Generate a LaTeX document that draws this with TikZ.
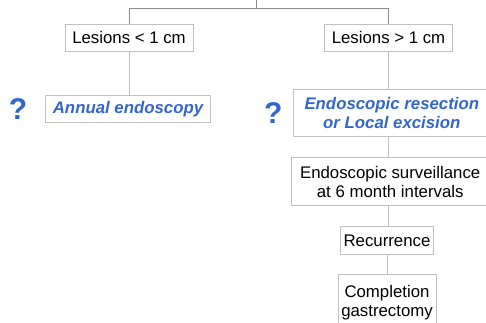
\documentclass[tikz,border=0pt]{standalone}
\usepackage{fontspec}
\setmainfont{Liberation Sans}
\definecolor{qblue}{RGB}{51,102,204}
\definecolor{boxgray}{RGB}{192,192,192}
\definecolor{treegray}{RGB}{140,140,140}
\tikzset{box/.style = {draw=boxgray, line width=0.9pt, inner sep=0, align=center, font=\fontsize{16.8}{19}\selectfont}}
\tikzset{optbox/.style = {box, text=qblue, font=\fontsize{16.8}{19}\selectfont\bfseries\itshape}}
\tikzset{qmark/.style = {text=qblue, inner sep=0, font=\fontsize{30}{30}\selectfont\bfseries}}
\tikzset{tree/.style = {draw=treegray, line width=0.9pt}}
\tikzset{link/.style = {draw=boxgray, line width=0.9pt}}

\begin{document}
\begin{tikzpicture}[x=1pt,y=1pt]
\useasboundingbox (0,0) rectangle (486,322);
\clip (0,0) rectangle (486,322);
\coordinate (root) at (256,322);
\coordinate (fork) at (256,314);
% size branches
\node[box, minimum width=128, minimum height=27.3] (small) at (129,284.3) {Lesions < 1 cm};
\node[box, minimum width=128, minimum height=27.3] (large) at (388.5,284.3) {Lesions > 1 cm};
% options
\node[optbox, minimum width=165.7, minimum height=27] (annual) at (128,213.2) {Annual endoscopy};
\node[optbox, minimum width=197, minimum height=47.4] (resect) at (391.8,209) {Endoscopic resection\\or Local excision};
\node[qmark] (qleft) at (18,213) {?};
\node[qmark] (qright) at (273.3,208.7) {?};
% follow up
\node[box, minimum width=197, minimum height=47.6] (watch) at (390.2,140.5) {Endoscopic surveillance\\at 6 month intervals};
\node[box, minimum width=93.7, minimum height=27.3] (recur) at (387,81.7) {Recurrence};
\node[box, anchor=north, minimum width=98, minimum height=56] (gastr) at (387,48) {Completion\\gastrectomy};
% connectors
\draw[tree] (root) -- (fork);
\draw[tree] (fork) -| (small.north);
\draw[tree] (fork) -| (large.north);
\draw[link] (small.south) -- (small.south |- annual.north);
\draw[link] (large.south) -- (large.south |- resect.north);
\draw[link] (large.south |- resect.south) -- (large.south |- watch.north);
\draw[link] (large.south |- watch.south) -- (large.south |- recur.north);
\draw[link] (recur.south) -- (recur.south |- gastr.north);
\end{tikzpicture}
\end{document}
